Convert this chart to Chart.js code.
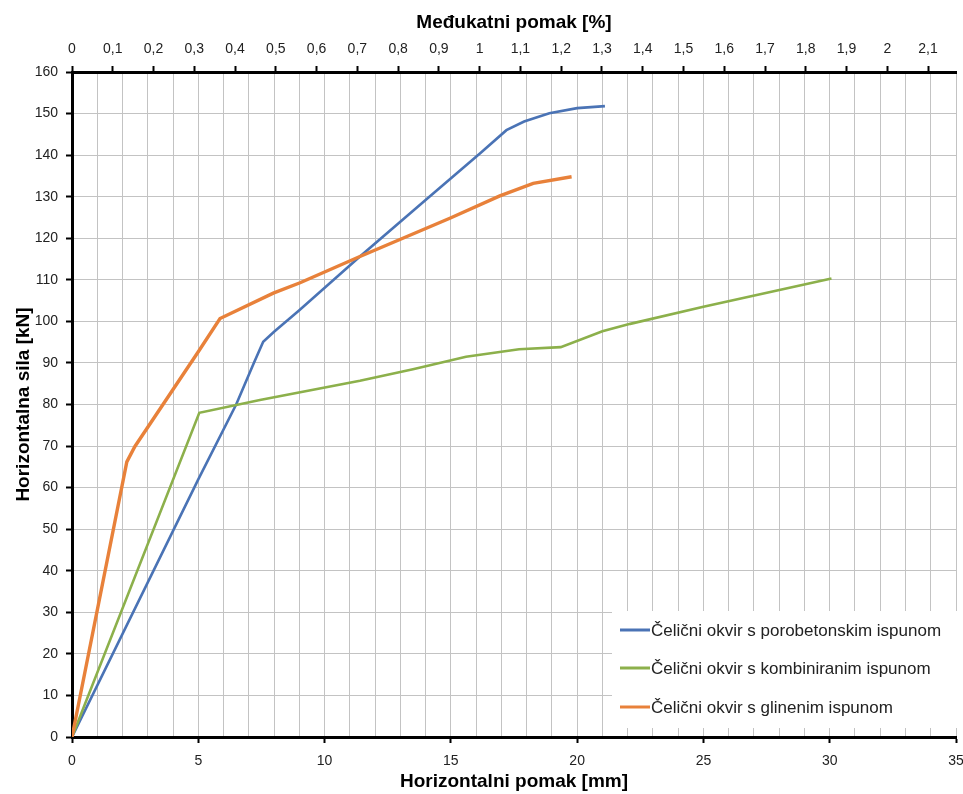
<!DOCTYPE html>
<html>
<head>
<meta charset="utf-8">
<script src="https://cdn.jsdelivr.net/npm/chart.js@4.4.1/dist/chart.umd.min.js"></script>
<style>
  body { margin: 0; background: #fff; }
  #wrap { width: 963px; height: 794px; }
</style>
</head>
<body>
<div id="wrap"><canvas id="forceChart" width="963" height="794"></canvas></div>
<script>
// Horizontalni pomak [mm] / Horizontalna sila [kN]
const porobetonMm = [0, 5, 6.5, 7.2, 7.57, 8.0, 9.0, 11.4, 14.0, 16.15, 17.2, 17.9, 18.9, 20.0, 21.1];
const porobetonKn = [0, 62, 80, 90, 95.1, 97.5, 102.7, 115.6, 129.2, 140.4, 146, 148.1, 150.1, 151.3, 151.8];

const kombiniraniMm = [0, 5.04, 7.44, 11.4, 13.5, 15.6, 17.7, 19.35, 21.0, 22.1, 25.0, 30.07];
const kombiniraniKn = [0, 78.0, 81.1, 85.7, 88.5, 91.5, 93.3, 93.8, 97.6, 99.4, 103.5, 110.3];

const glineniMm = [0, 2.17, 2.49, 5.0, 5.86, 7.97, 9.03, 11.4, 14.96, 16.94, 18.26, 19.78];
const glineniKn = [0, 66.2, 69.9, 92.7, 100.7, 106.8, 109.3, 115.6, 124.8, 130.2, 133.2, 134.8];

const seriesLabels = [
  "Čelični okvir s porobetonskim ispunom",
  "Čelični okvir s kombiniranim ispunom",
  "Čelični okvir s glinenim ispunom"
];

// gornja os: medjukatni pomak [%]
const percentTicks = [0, 0.1, 0.2, 0.3, 0.4, 0.5, 0.6, 0.7, 0.8, 0.9, 1, 1.1, 1.2, 1.3, 1.4, 1.5, 1.6, 1.7, 1.8, 1.9, 2, 2.1];

// 1 % medjukatnog pomaka = 16.14 mm
const mmPerPercent = 16.14;
const xMax = 35;
const yMax = 160;

const toPoints = (xs, ys) => xs.map((x, i) => ({ x: x, y: ys[i] }));

const FONT = "'Liberation Sans', Arial, sans-serif";

// legenda unutar grafa (bijela podloga preko mreze)
const boxLegend = {
  id: "boxLegend",
  beforeDatasetsDraw(chart) {
    const { ctx, chartArea } = chart;
    const left = chartArea.right - 344;
    const top = chartArea.bottom - 126;
    ctx.save();
    ctx.fillStyle = "#fff";
    ctx.fillRect(left, top, chartArea.right - left + 1, 117);
    ctx.font = "17px " + FONT;
    ctx.textBaseline = "middle";
    const rows = [19, 57, 96];
    chart.data.datasets.forEach((ds, i) => {
      const y = top + rows[i];
      ctx.strokeStyle = ds.borderColor;
      ctx.lineWidth = 3;
      ctx.beginPath();
      ctx.moveTo(left + 8, y);
      ctx.lineTo(left + 38, y);
      ctx.stroke();
      ctx.fillStyle = "#222";
      ctx.fillText(ds.label, left + 39, y + 1);
    });
    ctx.restore();
  }
};

const fmtComma = (v) => String(Math.round(v * 10) / 10).replace(".", ",");
const noSidePad = (s) => { s.paddingLeft = 0; s.paddingRight = 0; };

new Chart(document.getElementById("forceChart").getContext("2d"), {
  type: "scatter",
  data: {
    datasets: [
      {
        label: seriesLabels[0],
        data: toPoints(porobetonMm, porobetonKn),
        borderColor: "#4a73b5",
        borderWidth: 2.6,
        order: 3
      },
      {
        label: seriesLabels[1],
        data: toPoints(kombiniraniMm, kombiniraniKn),
        borderColor: "#8cb04b",
        borderWidth: 2.6,
        order: 2
      },
      {
        label: seriesLabels[2],
        data: toPoints(glineniMm, glineniKn),
        borderColor: "#e8813a",
        borderWidth: 3.4,
        order: 1
      }
    ].map((d) => Object.assign(d, { showLine: true, pointRadius: 0, tension: 0, fill: false }))
  },
  options: {
    responsive: false,
    animation: false,
    layout: { padding: { left: 10, right: 7, top: 8, bottom: 1 } },
    plugins: {
      legend: { display: false },
      tooltip: { enabled: false }
    },
    scales: {
      x: {
        type: "linear",
        position: "bottom",
        min: 0,
        max: xMax,
        afterFit: (s) => { s.height = 56; noSidePad(s); },
        ticks: {
          stepSize: 1,
          color: "#222",
          padding: 10,
          maxRotation: 0,
          autoSkip: false,
          font: { family: FONT, size: 14 },
          callback: (v) => (v % 5 === 0 ? String(v) : "")
        },
        grid: {
          color: "#c3c3c3",
          lineWidth: 1,
          tickLength: 6,
          tickWidth: 2,
          tickColor: (c) => (c.tick && c.tick.value % 5 === 0 ? "#000" : "rgba(0,0,0,0)")
        },
        border: { display: true, color: "#000", width: 3 },
        title: {
          display: true,
          text: "Horizontalni pomak [mm]",
          color: "#000",
          font: { family: FONT, size: 19, weight: "bold" },
          padding: { top: 2, bottom: 0 }
        }
      },
      x2: {
        type: "linear",
        position: "top",
        min: 0,
        max: xMax / mmPerPercent,
        afterBuildTicks: (scale) => {
          scale.ticks = percentTicks.map((v) => ({ value: v }));
        },
        afterFit: (s) => { s.height = 64; noSidePad(s); },
        ticks: {
          color: "#222",
          padding: 8,
          maxRotation: 0,
          autoSkip: false,
          font: { family: FONT, size: 14 },
          callback: (v) => fmtComma(v)
        },
        grid: {
          drawOnChartArea: false,
          tickLength: 6,
          tickWidth: 2,
          tickColor: "#000"
        },
        border: { display: true, color: "#000", width: 3 },
        title: {
          display: true,
          text: "Međukatni pomak [%]",
          color: "#000",
          font: { family: FONT, size: 19, weight: "bold" },
          padding: { top: 3, bottom: 5 }
        }
      },
      y: {
        min: 0,
        max: yMax,
        afterFit: (s) => { s.width = 62; },
        ticks: {
          stepSize: 10,
          color: "#222",
          padding: 8,
          font: { family: FONT, size: 14 }
        },
        grid: {
          color: "#c3c3c3",
          lineWidth: 1,
          tickLength: 6,
          tickWidth: 2,
          tickColor: "#000"
        },
        border: { display: true, color: "#000", width: 3 },
        title: {
          display: true,
          text: "Horizontalna sila [kN]",
          color: "#000",
          font: { family: FONT, size: 19, weight: "bold" },
          padding: { top: 2, bottom: 2 }
        }
      }
    }
  },
  plugins: [boxLegend]
});
</script>
</body>
</html>
